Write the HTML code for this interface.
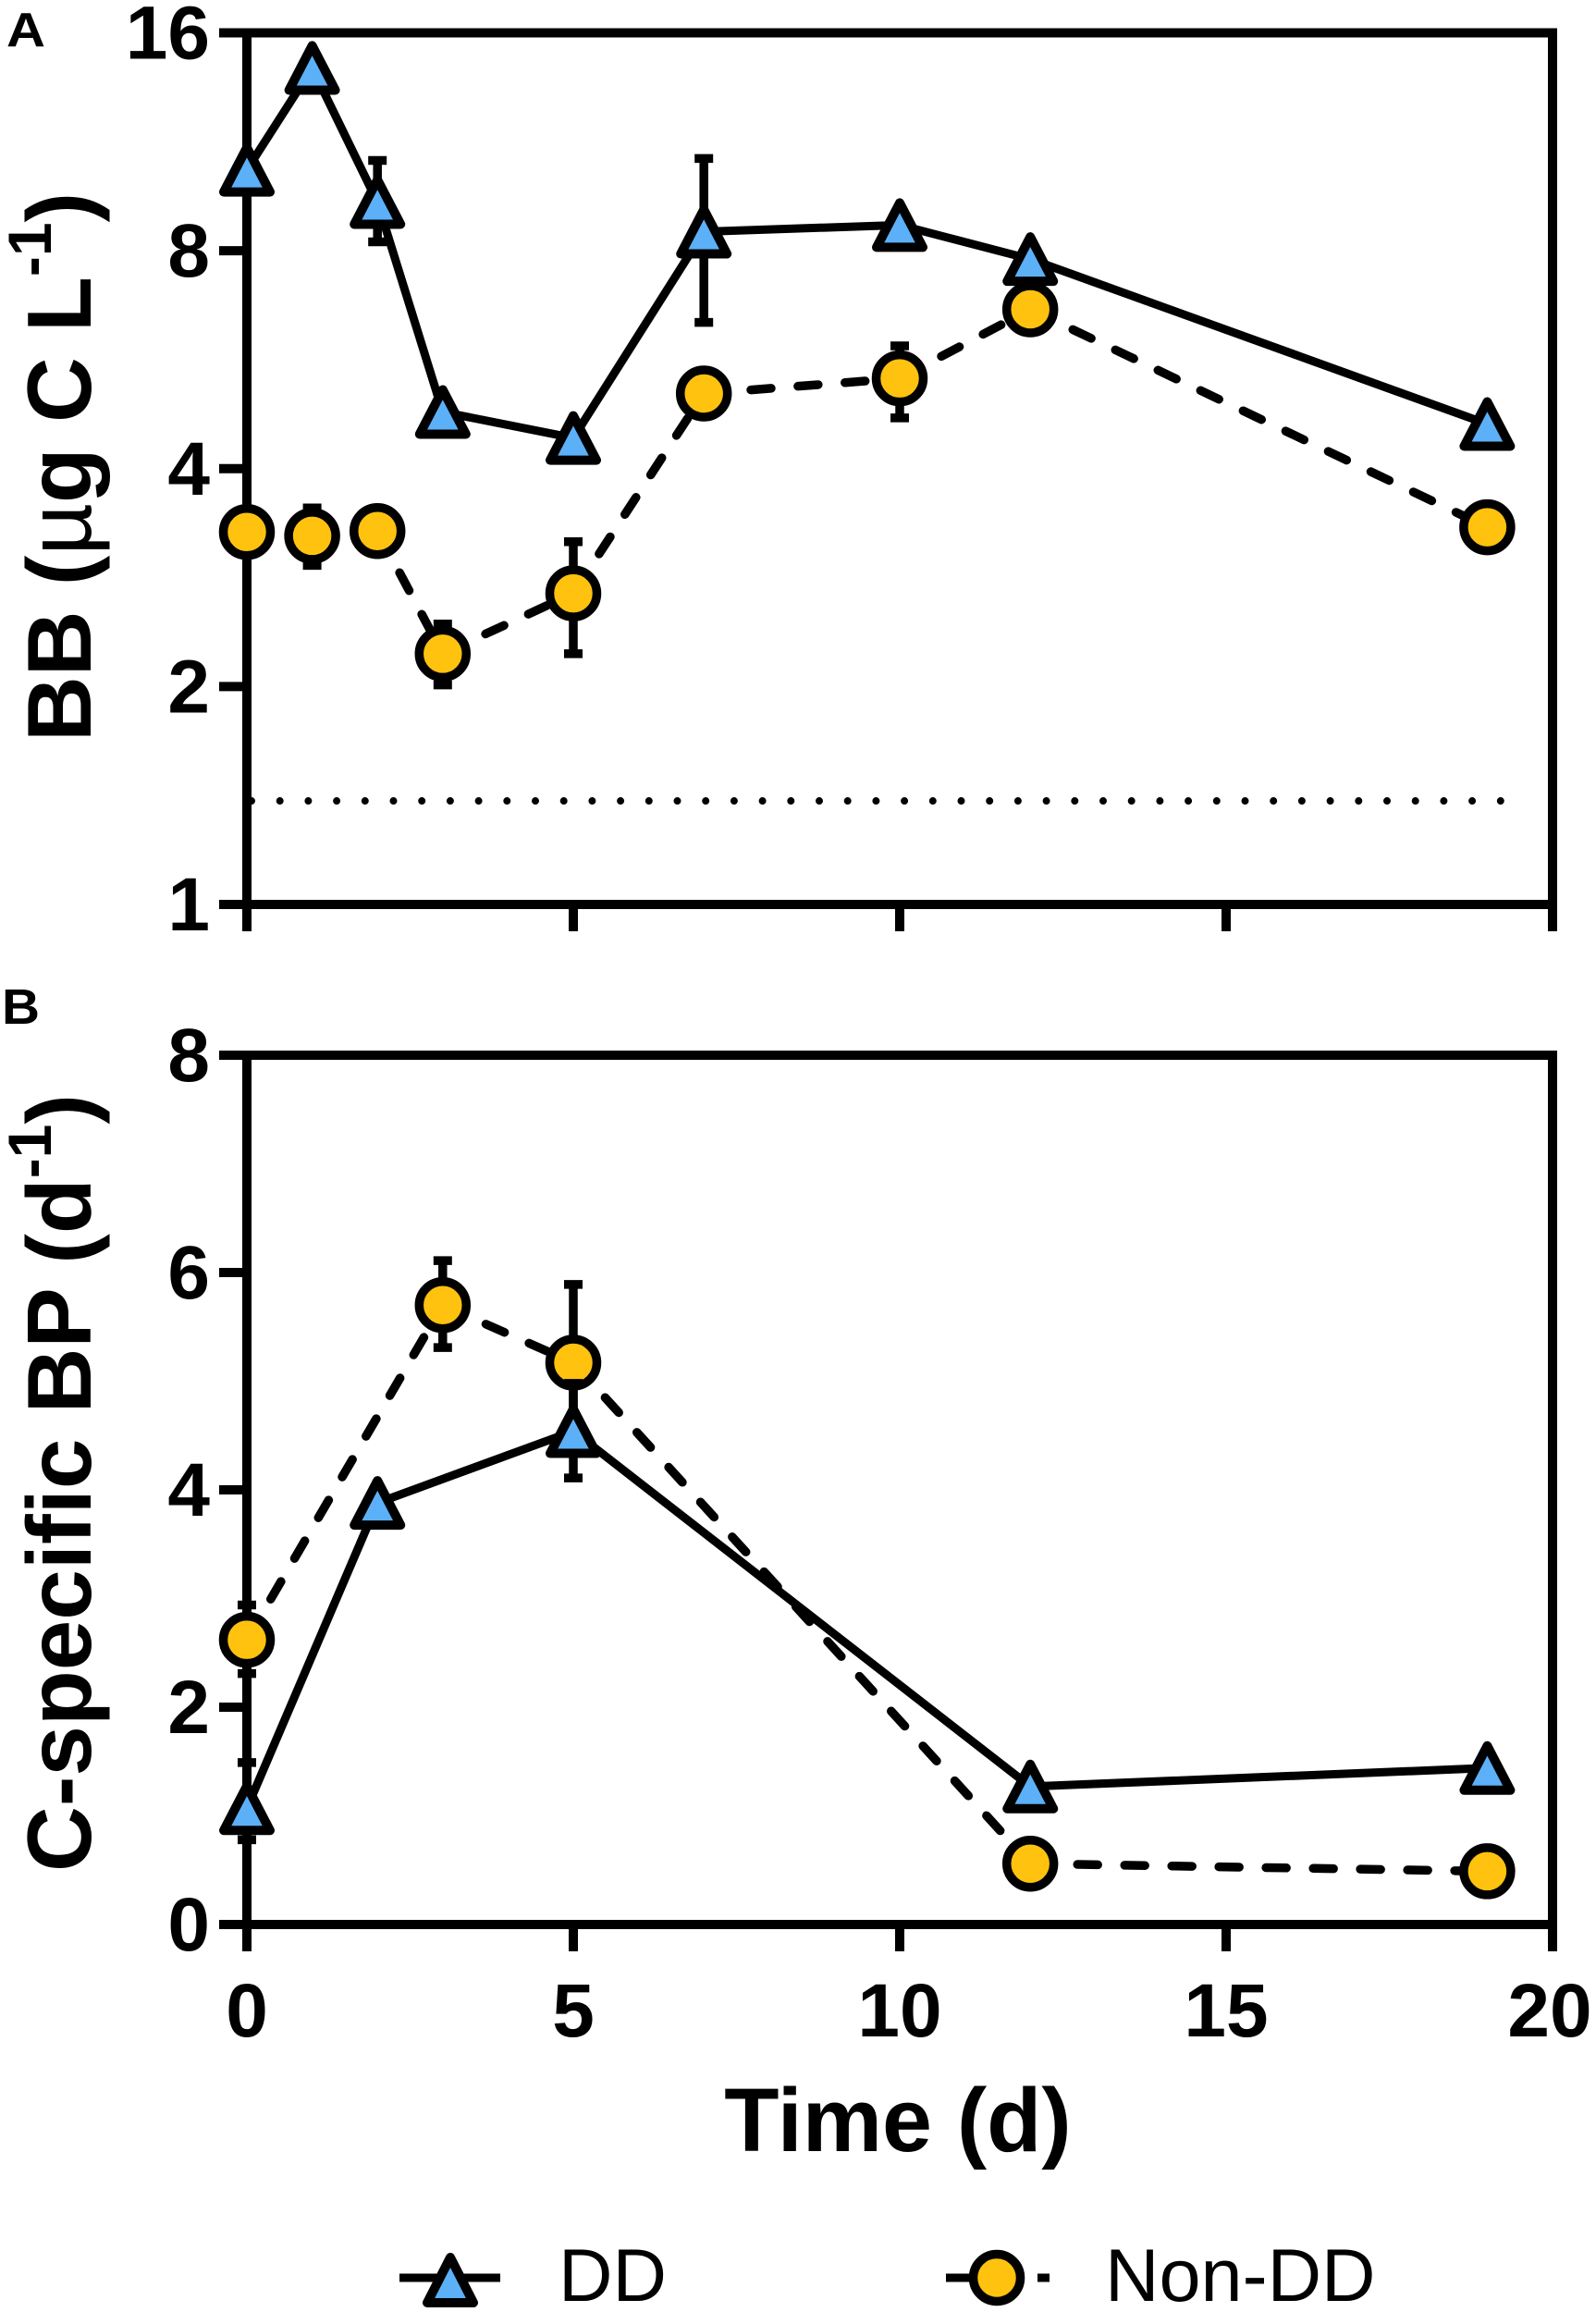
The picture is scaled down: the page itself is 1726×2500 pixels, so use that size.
<!DOCTYPE html>
<html lang="en">
<head>
<meta charset="utf-8">
<title>Bacterial biomass and C-specific production</title>
<style>
html,body{margin:0;padding:0;background:#fff;}
svg{display:block;}
text{font-family:"Liberation Sans",Arial,sans-serif;fill:#000;}
.bold{font-weight:bold;}
</style>
</head>
<body>
<svg id="chart" xmlns="http://www.w3.org/2000/svg" width="1726" height="2500" viewBox="0 0 1726 2500">
  <rect x="0" y="0" width="1726" height="2500" fill="#fff"/>
  <text class="bold" x="7" y="50" font-size="52" textLength="42" lengthAdjust="spacingAndGlyphs">A</text>
  <text class="bold" x="2" y="1107" font-size="54" textLength="41" lengthAdjust="spacingAndGlyphs">B</text>
  <text class="bold" font-size="98" transform="translate(98,802) rotate(-90)">BB (<tspan font-weight="normal">µ</tspan>g C L<tspan font-size="66" dy="-43">-1</tspan><tspan dy="43">)</tspan></text>
  <text class="bold" font-size="98" transform="translate(98,2024) rotate(-90)">C-specific BP (d<tspan font-size="66" dy="-43">-1</tspan><tspan dy="43">)</tspan></text>
  <text class="bold" x="971" y="2326" font-size="97" text-anchor="middle">Time (d)</text>
  <g id="panelA"></g>
  <g id="panelB"></g>
  <g>
    <g>
      <line x1="432" y1="2463" x2="541" y2="2463" stroke="#000" stroke-width="9"/>
      <path d="M487 2441 L512 2490 L462 2490 Z" fill="#5CB0F8" stroke="#000" stroke-width="10" stroke-linejoin="round"/>
      <text x="604" y="2488" font-size="81">DD</text>
    </g>
    <g>
      <line x1="1023" y1="2463" x2="1052" y2="2463" stroke="#000" stroke-width="9"/>
      <line x1="1122" y1="2463" x2="1135" y2="2463" stroke="#000" stroke-width="9"/>
      <circle cx="1078" cy="2463" r="25.5" fill="#FFC20E" stroke="#000" stroke-width="9.5"/>
      <text x="1195" y="2488" font-size="81">Non-DD</text>
    </g>
  </g>
</svg>
<script>
// Shared x axis
const xTicks = [0, 5, 10, 15, 20];

// Panel A: BB (log2 axis)
const aYTicks = [1, 2, 4, 8, 16];
const aDDx = [0, 1, 2, 3, 5, 7, 10, 12, 19];
const aDDy = [10.35, 14.31, 9.34, 4.79, 4.41, 8.5, 8.68, 7.79, 4.61];
const aDDhi = [null, null, 10.66, null, null, 10.73, null, null, null];
const aDDlo = [null, null, 8.23, null, null, 6.37, null, null, null];
const aNonx = [0, 1, 2, 3, 5, 7, 10, 12, 19];
const aNony = [3.27, 3.23, 3.28, 2.22, 2.69, 5.08, 5.33, 6.64, 3.32];
const aNonhi = [null, 3.53, null, 2.44, 3.17, null, 5.91, null, null];
const aNonlo = [null, 2.94, null, 2.01, 2.22, null, 4.7, null, null];
const aDetectionLimit = 1.39;

// Panel B: C-specific BP (linear axis)
const bYTicks = [0, 2, 4, 6, 8];
const bDDx = [0, 2, 5, 12, 19];
const bDDy = [1.07, 3.88, 4.54, 1.27, 1.44];
const bDDhi = [1.49, null, 4.98, null, null];
const bDDlo = [0.78, null, 4.11, null, null];
const bNonx = [0, 3, 5, 12, 19];
const bNony = [2.62, 5.7, 5.17, 0.56, 0.49];
const bNonhi = [2.94, 6.11, 5.89, null, null];
const bNonlo = [2.31, 5.31, 4.6, null, null];

const NS = 'http://www.w3.org/2000/svg';
const xLeft = 267, xRight = 1679;
const xScale = v => xLeft + (v / 20) * (xRight - xLeft);
const aTop = 35.5, aBottom = 978;
const aScale = v => aBottom - (Math.log2(v) / 4) * (aBottom - aTop);
const bTop = 1141, bBottom = 2081;
const bScale = v => bBottom - (v / 8) * (bBottom - bTop);

function make(tag, attrs, parent) {
  const e = document.createElementNS(NS, tag);
  for (const k in attrs) e.setAttribute(k, attrs[k]);
  parent.appendChild(e);
  return e;
}

function drawAxes(g, yScale, yTicks, yTop, yBottom, showXLabels, panel) {
  const frame = make('path', {
    d: 'M237 ' + yTop + ' H' + (xRight + 5) + ' M' + xRight + ' ' + yTop + ' V' + (yBottom + 29) + ' M237 ' + yBottom + ' H' + (xRight + 5) + ' M' + xLeft + ' ' + yTop + ' V' + (yBottom + 29),
    fill: 'none', stroke: '#000', 'stroke-width': 10
  }, g);
  
  
  yTicks.forEach(t => {
    const y = yScale(t);
    const tick = make('line', {x1: 237, x2: xLeft, y1: y, y2: y, stroke: '#000', 'stroke-width': 10}, g);
    
    
    const label = make('text', {x: 227, y: y + 28, 'text-anchor': 'end', 'font-size': 82, 'class': 'bold'}, g);
    
    
    label.textContent = t;
  });
  xTicks.forEach(t => {
    const x = xScale(t);
    const tick = make('line', {x1: x, x2: x, y1: yBottom, y2: yBottom + 29, stroke: '#000', 'stroke-width': 10}, g);
    
    
    if (showXLabels) {
      const label = make('text', {x: t === 20 ? x - 3 : x, y: yBottom + 121, 'text-anchor': 'middle', 'font-size': 82, 'class': 'bold'}, g);
      
      
      label.textContent = t;
    }
  });
}

function drawSeries(g, xs, ys, hi, lo, yScale, kind, panel) {
  const seriesName = panel + '-series-' + kind;
  xs.forEach((x, i) => {
    if (i === xs.length - 1) return;
    const attrs = {
      x1: xScale(x), y1: yScale(ys[i]), x2: xScale(xs[i + 1]), y2: yScale(ys[i + 1]),
      stroke: '#000', 'stroke-width': kind === 'dd' ? 9 : 9.5
    };
    if (kind === 'non-dd') {
      attrs['stroke-dasharray'] = '22 29';
      attrs['stroke-linecap'] = 'round';
    }
    const seg = make('line', attrs, g);
    
    
  });
  xs.forEach((x, i) => {
    if (hi[i] === null) return;
    const px = xScale(x);
    const yh = yScale(hi[i]);
    const yl = yScale(lo[i]);
    const err = make('path', {
      d: 'M' + (px - 10) + ' ' + yh + ' H' + (px + 10) + ' M' + px + ' ' + yh + ' V' + yl + ' M' + (px - 10) + ' ' + yl + ' H' + (px + 10),
      fill: 'none', stroke: '#000', 'stroke-width': 9.5
    }, g);
    
    
  });
  xs.forEach((x, i) => {
    const px = xScale(x);
    const py = yScale(ys[i]);
    let mark;
    if (kind === 'dd') {
      mark = make('path', {
        d: 'M' + px + ' ' + (py - 24) + ' L' + (px + 25) + ' ' + (py + 24) + ' L' + (px - 25) + ' ' + (py + 24) + ' Z',
        fill: '#5CB0F8', stroke: '#000', 'stroke-width': 10, 'stroke-linejoin': 'round'
      }, g);
    } else {
      mark = make('circle', {cx: px, cy: py, r: 25.5, fill: '#FFC20E', stroke: '#000', 'stroke-width': 9.5}, g);
    }
    
    
  });
}

const panelA = document.getElementById('panelA');
const panelB = document.getElementById('panelB');

drawAxes(panelA, aScale, aYTicks, aTop, aBottom, false, 'panel-a');
const limit = make('line', {
  x1: 272, x2: 1652, y1: aScale(aDetectionLimit), y2: aScale(aDetectionLimit),
  stroke: '#000', 'stroke-width': 8, 'stroke-linecap': 'round', 'stroke-dasharray': '0 30.7'
}, panelA);


drawSeries(panelA, aNonx, aNony, aNonhi, aNonlo, aScale, 'non-dd', 'panel-a');
drawSeries(panelA, aDDx, aDDy, aDDhi, aDDlo, aScale, 'dd', 'panel-a');

drawAxes(panelB, bScale, bYTicks, bTop, bBottom, true, 'panel-b');
drawSeries(panelB, bNonx, bNony, bNonhi, bNonlo, bScale, 'non-dd', 'panel-b');
drawSeries(panelB, bDDx, bDDy, bDDhi, bDDlo, bScale, 'dd', 'panel-b');
</script>
</body>
</html>
